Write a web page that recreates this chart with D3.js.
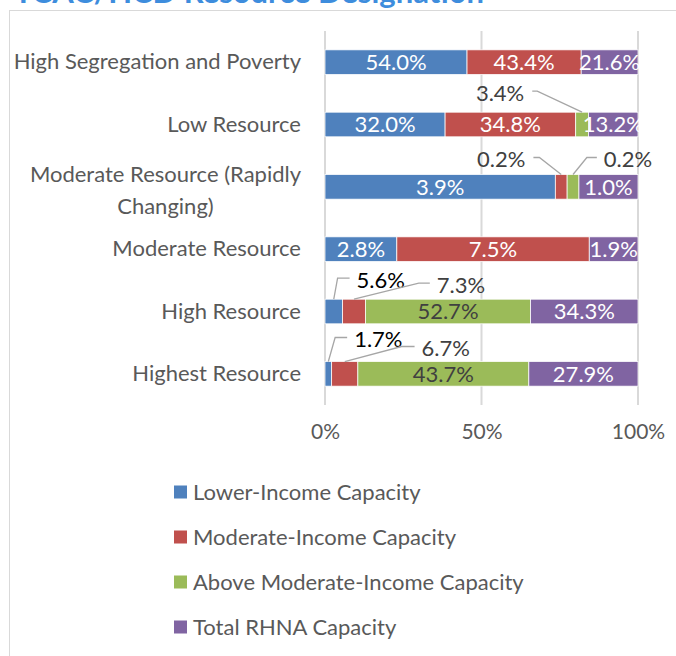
<!DOCTYPE html>
<html><head><meta charset="utf-8">
<script src="https://cdn.jsdelivr.net/npm/d3@7"></script>
<style>
html,body{margin:0;padding:0;background:#fff;}
svg{display:block;font-family:Lato, "Open Sans", sans-serif;}
</style></head>
<body>
<script>
// ---- data ----
const categories = ["High Segregation and Poverty","Low Resource","Moderate Resource (Rapidly Changing)","Moderate Resource","High Resource","Highest Resource"];
const seriesNames = ["Lower-Income Capacity","Moderate-Income Capacity","Above Moderate-Income Capacity","Total RHNA Capacity"];
const lowerIncome = [54.0, 32.0, 3.9, 2.8, 5.6, 1.7];
const moderateIncome = [43.4, 34.8, 0.2, 7.5, 7.3, 6.7];
const aboveModerate = [0, 3.4, 0.2, 0, 52.7, 43.7];
const totalRHNA = [21.6, 13.2, 1.0, 1.9, 34.3, 27.9];
const xTicks = [0, 0.5, 1];
const titleText = "TCAC/HCD Resource Designation";

// ---- layout / style ----
const W = 676, H = 656;
const FS = 22;
const colors = ["#4F81BD","#C0504D","#9BBB59","#8064A2"];
const plot = {x0: 325, x1: 638, y0: 31, y1: 405};
// callouts: [categoryIndex, seriesIndex, textDx, textDy, side, elbowLen]
const callouts = [
  [1, 2, -82, -19, "left", 5],
  [2, 1, -60, -15, "left", 6],
  [2, 2, 55, -15, "right", 10],
  [4, 0, 47, -19, "right", 12],
  [4, 1, 107, -14, "right", 11],
  [5, 0, 50, -22, "right", 12],
  [5, 1, 101, -13, "right", 13]
];
const darkCallouts = new Set(["4-0","5-0"]);

const seriesData = [lowerIncome, moderateIncome, aboveModerate, totalRHNA];
const rows = categories.map((c, i) => {
  const o = {cat: c};
  seriesNames.forEach((s, j) => o[s] = seriesData[j][i]);
  return o;
});
const stack = d3.stack().keys(seriesNames).offset(d3.stackOffsetExpand)(rows);

const svg = d3.select("body").append("svg").attr("width", W).attr("height", H);

// title (cut off at the top, as in the source image)
svg.append("text").attr("x", 14).attr("y", 3).text(titleText)
  .attr("font-size", 31).attr("font-weight", 700)
  .attr("fill", "#3E8DDD");

// frame
svg.append("rect").attr("x", 9.5).attr("y", 10.5).attr("width", 700).attr("height", 700)
  .attr("fill", "none").attr("stroke", "#D9D9D9").attr("stroke-width", 1);

const x = d3.scaleLinear().domain([0, 1]).range([plot.x0, plot.x1]);
const y = d3.scaleBand().domain(categories).range([plot.y0, plot.y1]).paddingInner(0.605).paddingOuter(0.3025);

// gridlines
svg.append("g").selectAll("line").data(xTicks).join("line")
  .attr("x1", d => x(d)).attr("x2", d => x(d))
  .attr("y1", plot.y0).attr("y2", plot.y1)
  .attr("stroke", "#D9D9D9").attr("stroke-width", 2);

// x axis labels
const xAxis = d3.axisBottom(x).tickValues(xTicks).tickFormat(d3.format(".0%")).tickSize(0).tickPadding(0);
const gx = svg.append("g").attr("transform", `translate(0,${plot.y1 + 19})`).call(xAxis);
gx.select(".domain").remove();
gx.selectAll("text").attr("font-size", 21).attr("fill", "#595959").attr("font-family", "Lato, sans-serif").attr("dy", "0.71em");

// y axis labels
const yAxis = d3.axisLeft(y).tickSize(0).tickPadding(0);
const gy = svg.append("g").attr("transform", `translate(${plot.x0 - 24},0)`).call(yAxis);
gy.select(".domain").remove();
gy.selectAll("text").attr("font-size", FS).attr("fill", "#595959").attr("font-family", "Lato, sans-serif")
  .each(function(d) {
    if (d === "Moderate Resource (Rapidly Changing)") {
      const t = d3.select(this);
      const full = t.node().getComputedTextLength();
      t.text(null).attr("text-anchor", "middle").attr("dy", null);
      const lines = ["Moderate Resource (Rapidly", "Changing)"];
      const sp = t.selectAll("tspan").data(lines).join("tspan").text(l => l);
      const w0 = sp.nodes()[0].getComputedTextLength();
      sp.attr("x", -w0 / 2).attr("y", (l, i) => i === 0 ? -13 : 19).attr("dy", "0.36em");
    }
  });

// bars
const bh = y.bandwidth();
const groups = svg.append("g").selectAll("g").data(stack).join("g")
  .attr("fill", (d, i) => colors[i]);
groups.selectAll("rect").data(d => d).join("rect")
  .attr("x", d => x(d[0])).attr("width", d => Math.max(0, x(d[1]) - x(d[0])))
  .attr("y", d => y(d.data.cat)).attr("height", bh)
  .attr("stroke", "#fff").attr("stroke-width", 0.75);

// inside labels
const calloutKeys = new Set(callouts.map(c => c[0] + "-" + c[1]));
stack.forEach((s, j) => {
  s.forEach((d, i) => {
    const v = seriesData[j][i];
    if (v === 0 || calloutKeys.has(i + "-" + j)) return;
    svg.append("text")
      .attr("x", (x(d[0]) + x(d[1])) / 2).attr("y", y(d.data.cat) + bh / 2)
      .attr("dy", "0.36em").attr("text-anchor", "middle")
      .attr("font-size", FS).attr("fill", j === 2 ? "#404040" : "#fff")
      .text(v.toFixed(1) + "%");
  });
});

// callouts
callouts.forEach(([ci, sj, dx, dy, side, el]) => {
  const d = stack[sj][ci];
  const ax = (x(d[0]) + x(d[1])) / 2, ay = y(categories[ci]);
  const tx = ax + dx, ty = ay + dy;
  const label = seriesData[sj][ci].toFixed(1) + "%";
  const t = svg.append("text").attr("x", tx).attr("y", ty).attr("dy", "0.36em")
    .attr("text-anchor", "middle").attr("font-size", FS)
    .attr("fill", darkCallouts.has(ci + "-" + sj) ? "#000" : "#404040").text(label);
  const w = t.node().getComputedTextLength();
  const ly = ty - 2;
  let p2x, p1x;
  if (side === "left") { p2x = tx + w / 2 + 8; p1x = p2x + el; }
  else { p2x = tx - w / 2 - 7; p1x = p2x - el; }
  svg.append("path").attr("d", d3.line()([[ax, ay], [p1x, ly], [p2x, ly]]))
    .attr("fill", "none").attr("stroke", "#A6A6A6").attr("stroke-width", 1.3);
});

// legend
const lg = svg.append("g").selectAll("g").data(seriesNames).join("g")
  .attr("transform", (d, i) => `translate(174,${492 + i * 45})`);
lg.append("rect").attr("x", 0).attr("y", -6.5).attr("width", 13).attr("height", 13).attr("fill", (d, i) => colors[i]);
lg.append("text").attr("x", 19).attr("dy", "0.36em").attr("font-size", FS).attr("fill", "#595959").text(d => d);
</script>
</body></html>
